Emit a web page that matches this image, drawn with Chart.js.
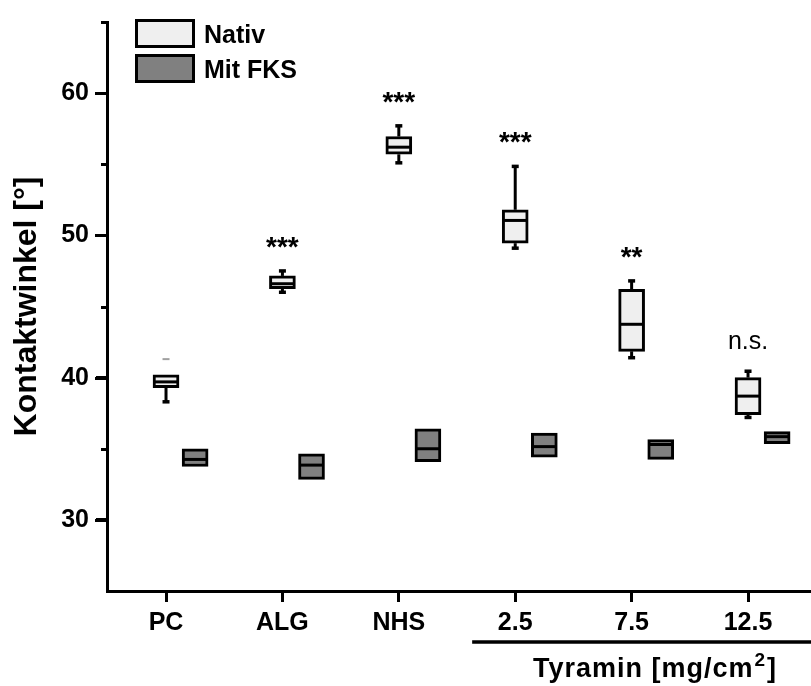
<!DOCTYPE html>
<html><head><meta charset="utf-8">
<script src="https://cdn.jsdelivr.net/npm/chart.js@4/dist/chart.umd.min.js"></script>
<style>html,body{margin:0;padding:0;background:#fff}</style>
</head><body>
<canvas id="c" width="811" height="686"></canvas>
<script>
// ---- data ----
const categories   = ['PC', 'ALG', 'NHS', '2.5', '7.5', '12.5'];
const nativMin     = [38.3, 46.0, 55.1, 49.1, 41.4, 37.2];
const nativQ1      = [39.3, 46.25, 55.7, 49.45, 41.85, 37.4];
const nativMedian  = [39.7, 46.6, 56.2, 51.05, 43.75, 38.7];
const nativQ3      = [40.2, 47.15, 56.95, 51.8, 46.2, 40.0];
const nativMax     = [40.2, 47.5, 57.7, 54.85, 46.8, 40.45];
const nativOutlier = [41.3, null, null, null, null, null];
const fksMin       = [33.75, 32.85, 34.1, 34.4, 34.25, 35.35];
const fksQ1        = [33.75, 32.85, 34.1, 34.4, 34.25, 35.35];
const fksMedian    = [34.25, 33.85, 35.0, 35.15, 35.3, 35.85];
const fksQ3        = [35.0, 34.65, 36.4, 36.1, 35.65, 36.2];
const fksMax       = [35.0, 34.65, 36.4, 36.1, 35.65, 36.2];
const significance = ['', '***', '***', '***', '**', 'n.s.'];
const yMajorTicks  = [30, 40, 50, 60];
const yMinorTicks  = [35, 45, 55, 65];
const seriesNames  = ['Nativ', 'Mit FKS'];
const groupLabelParts = ['Tyramin [mg/cm', '2', ']'];
const yTitle       = 'Kontaktwinkel [°]';

// ---- styling ----
const FONT = '"Liberation Sans", Arial, Helvetica, sans-serif';
const FKS_SHIFT = 0.25;
const NATIV_FILL = '#efefef';
const FKS_FILL = '#808080';

const stats = [
  {min: nativMin, q1: nativQ1, med: nativMedian, q3: nativQ3, max: nativMax, out: nativOutlier, shift: 0},
  {min: fksMin, q1: fksQ1, med: fksMedian, q3: fksQ3, max: fksMax, out: null, shift: FKS_SHIFT}
];

const boxExtras = {
  id: 'boxExtras',
  afterDatasetsDraw(chart) {
    const ctx = chart.ctx, xs = chart.scales.x, ys = chart.scales.y;
    ctx.save();
    ctx.strokeStyle = '#000';
    ctx.lineCap = 'butt';
    stats.forEach((s, di) => {
      const meta = chart.getDatasetMeta(di);
      categories.forEach((c, i) => {
        const bar = meta.data[i];
        const px = xs.getPixelForValue(i + s.shift);
        const half = bar.width / 2;
        ctx.lineWidth = 3;
        ctx.beginPath();
        const my = ys.getPixelForValue(s.med[i]);
        ctx.moveTo(px - half + 1, my); ctx.lineTo(px + half - 1, my); ctx.stroke();
        const pairs = [[s.q3[i], s.max[i]], [s.q1[i], s.min[i]]];
        pairs.forEach(([from, to]) => {
          if (Math.abs(from - to) < 1e-9) return;
          const y1 = ys.getPixelForValue(from), y2 = ys.getPixelForValue(to);
          ctx.lineWidth = 3;
          ctx.beginPath(); ctx.moveTo(px, y1); ctx.lineTo(px, y2); ctx.stroke();
          ctx.lineWidth = 3.5;
          ctx.beginPath(); ctx.moveTo(px - 3.5, y2); ctx.lineTo(px + 3.5, y2); ctx.stroke();
        });
        if (s.out && s.out[i] != null) {
          const oy = ys.getPixelForValue(s.out[i]);
          ctx.strokeStyle = '#a0a0a0'; ctx.lineWidth = 2;
          ctx.beginPath(); ctx.moveTo(px - 3.5, oy); ctx.lineTo(px + 3.5, oy); ctx.stroke();
          ctx.strokeStyle = '#000';
        }
      });
    });
    ctx.restore();
  },
  afterDraw(chart) {
    const ctx = chart.ctx, xs = chart.scales.x, ys = chart.scales.y;
    const left = chart.chartArea.left;
    ctx.save();
    // y ticks (major + minor)
    ctx.strokeStyle = '#000'; ctx.lineWidth = 3; ctx.lineCap = 'butt';
    yMajorTicks.concat(yMinorTicks).forEach(v => {
      const py = Math.round(ys.getPixelForValue(v)) + 0.5;
      const len = yMajorTicks.indexOf(v) >= 0 ? 12 : 6;
      ctx.beginPath(); ctx.moveTo(left - len, py); ctx.lineTo(left + 1, py); ctx.stroke();
    });
    ctx.fillStyle = '#000';
    ctx.textAlign = 'center';
    ctx.textBaseline = 'alphabetic';
    categories.forEach((c, i) => {
      const t = significance[i];
      if (!t) return;
      const px = xs.getPixelForValue(i);
      const top = ys.getPixelForValue(nativMax[i]);
      if (t.indexOf('*') >= 0) {
        ctx.font = 'bold 28px ' + FONT;
        ctx.fillText(t, px, top - 15);
      } else {
        ctx.font = '25px ' + FONT;
        ctx.fillText(t, px, top - 22);
      }
    });
    // legend
    const fills = [NATIV_FILL, FKS_FILL];
    const boxesY = [19, 54];
    seriesNames.forEach((n, k) => {
      ctx.fillStyle = fills[k];
      ctx.fillRect(135, boxesY[k], 60, 29);
      ctx.strokeStyle = '#000'; ctx.lineWidth = 3;
      ctx.strokeRect(136.5, boxesY[k] + 1.5, 57, 26);
      ctx.fillStyle = '#000';
      ctx.font = 'bold 25px ' + FONT;
      ctx.textAlign = 'left';
      ctx.textBaseline = 'alphabetic';
      ctx.fillText(n, 204, boxesY[k] + 24);
    });
    // Tyramin group line + label
    const xStart = xs.getPixelForValue(2.63);
    ctx.strokeStyle = '#000';
    ctx.lineWidth = 3.5;
    ctx.beginPath(); ctx.moveTo(xStart, 642); ctx.lineTo(chart.width, 642); ctx.stroke();
    ctx.textAlign = 'left';
    ctx.letterSpacing = '1px';
    let gx = 533;
    const base = 677;
    ctx.font = 'bold 27px ' + FONT;
    ctx.fillText(groupLabelParts[0], gx, base);
    gx += ctx.measureText(groupLabelParts[0]).width + 1;
    ctx.font = 'bold 19px ' + FONT;
    ctx.fillText(groupLabelParts[1], gx, base - 11);
    gx += ctx.measureText(groupLabelParts[1]).width + 1;
    ctx.font = 'bold 27px ' + FONT;
    ctx.fillText(groupLabelParts[2], gx, base);
    ctx.restore();
  }
};

const nativData = categories.map((c, i) => ({x: i, y: [nativQ1[i], nativQ3[i]]}));
const fksData = categories.map((c, i) => ({x: i + FKS_SHIFT, y: [fksQ1[i], fksQ3[i]]}));

new Chart(document.getElementById('c'), {
  type: 'bar',
  data: {
    datasets: [
      {label: seriesNames[0], data: nativData, backgroundColor: NATIV_FILL, borderColor: '#000', borderWidth: 3, borderSkipped: false, barThickness: 26, grouped: false},
      {label: seriesNames[1], data: fksData, backgroundColor: FKS_FILL, borderColor: '#000', borderWidth: 3, borderSkipped: false, barThickness: 26, grouped: false}
    ]
  },
  options: {
    responsive: false,
    animation: false,
    devicePixelRatio: 1,
    layout: {padding: {top: 17, left: 0, right: 0, bottom: 0}},
    plugins: {legend: {display: false}, tooltip: {enabled: false}, title: {display: false}},
    scales: {
      x: {
        type: 'linear', min: -0.507, max: 5.541, offset: false,
        afterBuildTicks: s => { s.ticks = categories.map((c, i) => ({value: i})); },
        afterFit: s => { s.height = 95; },
        border: {display: true, color: '#000', width: 3},
        grid: {display: true, offset: false, drawOnChartArea: false, drawTicks: true, tickLength: 11, tickWidth: 3, tickColor: '#000'},
        ticks: {padding: 6, autoSkip: false, maxRotation: 0, color: '#000',
          font: {family: FONT, size: 25, weight: 'bold'},
          callback: v => categories[v] !== undefined ? categories[v] : ''}
      },
      y: {
        type: 'linear', min: 25, max: 65,
        afterBuildTicks: s => { s.ticks = yMajorTicks.map(v => ({value: v})); },
        afterFit: s => { s.width = 107; },
        border: {display: true, color: '#000', width: 3},
        grid: {display: true, offset: false, drawOnChartArea: false, drawTicks: true, tickLength: 11, tickWidth: 3, tickColor: '#000'},
        ticks: {padding: 7, color: '#000', font: {family: FONT, size: 25, weight: 'bold'},
          callback: v => String(v)},
        title: {display: true, text: yTitle, color: '#000', font: {family: FONT, size: 32, weight: 'bold'}, padding: {top: 8, bottom: 0}}
      }
    }
  },
  plugins: [boxExtras]
});
</script>
</body></html>
